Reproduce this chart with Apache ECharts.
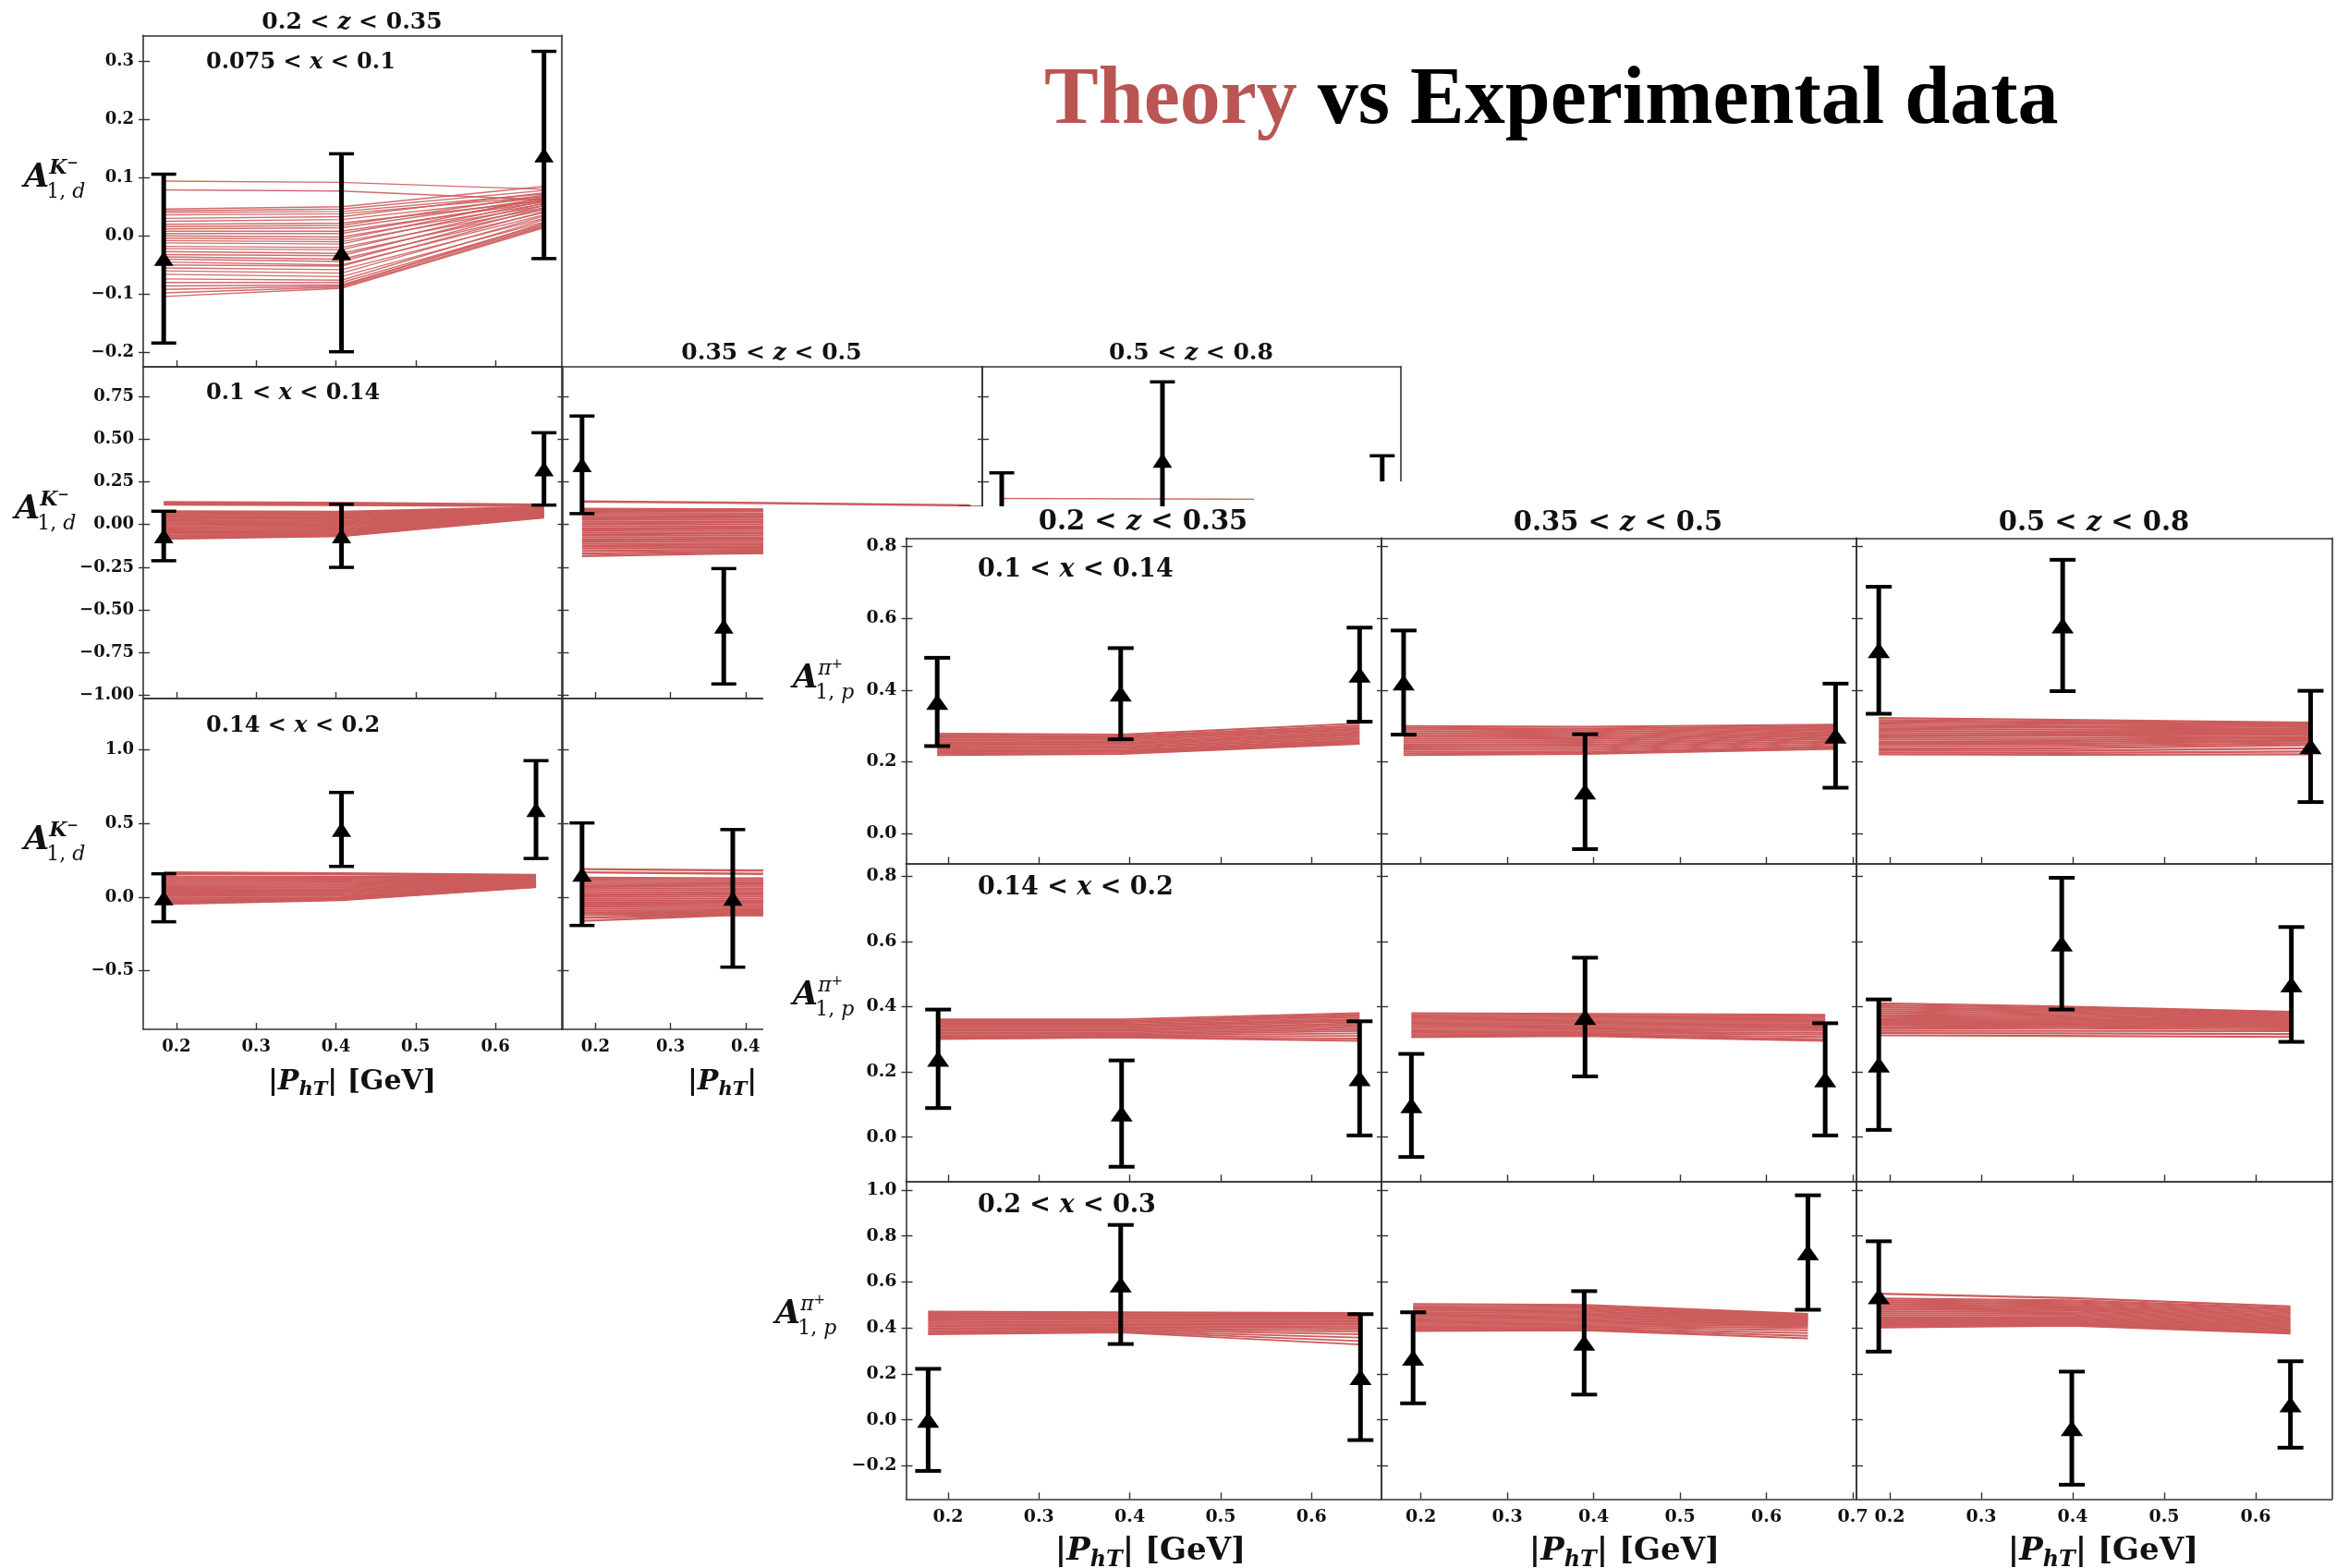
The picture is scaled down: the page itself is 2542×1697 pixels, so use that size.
<!DOCTYPE html>
<html>
<head>
<meta charset="utf-8">
<title>Theory vs Experimental data</title>
<script src="https://cdn.jsdelivr.net/npm/echarts@6/dist/echarts.min.js"></script>
<style>
  html, body { margin: 0; padding: 0; background: #fff; }
  .layer { position: absolute; left: 0; top: 0; width: 2542px; height: 1697px; }
</style>
</head>
<body>
<div id="kaon" class="layer"></div>
<div id="pion" class="layer"></div>
<script>
// ===================== bins and tick labels =====================
const zBins   = [['0.2', '0.35'], ['0.35', '0.5'], ['0.5', '0.8']];
const kdXBins = [['0.075', '0.1'], ['0.1', '0.14'], ['0.14', '0.2']];
const ppXBins = [['0.1', '0.14'], ['0.14', '0.2'], ['0.2', '0.3']];

const kdXTicks     = [0.2, 0.3, 0.4, 0.5, 0.6];
const kdXTicksWide = [0.2, 0.3, 0.4, 0.5, 0.6, 0.7];
const kdYTicksRow1 = [-0.2, -0.1, 0, 0.1, 0.2, 0.3];
const kdYTicksRow2 = [-1, -0.75, -0.5, -0.25, 0, 0.25, 0.5, 0.75];
const kdYTicksRow3 = [-0.5, 0, 0.5, 1];
const ppXTicks     = [0.2, 0.3, 0.4, 0.5, 0.6];
const ppXTicksWide = [0.2, 0.3, 0.4, 0.5, 0.6, 0.7];
const ppYTicks     = [0, 0.2, 0.4, 0.6, 0.8];
const ppYTicksLow  = [-0.2, 0, 0.2, 0.4, 0.6, 0.8, 1.0];

// ===================== K- on deuteron: A_1,d =====================
// 0.2 < z < 0.35, 0.075 < x < 0.1
const kd_z1_x1_pt  = [0.184, 0.407, 0.661];
const kd_z1_x1_val = [-0.039, -0.029, 0.139];
const kd_z1_x1_err = [0.145, 0.170, 0.178];
const kd_z1_x1_th = [
  [0.094, 0.092, 0.080], [0.079, 0.077, 0.062], [0.046, 0.050, 0.085], [0.043, 0.046, 0.078],
  [0.040, 0.042, 0.072], [0.036, 0.038, 0.068], [0.030, 0.033, 0.074], [0.025, 0.028, 0.066],
  [0.020, 0.022, 0.060], [0.016, 0.018, 0.070], [0.012, 0.014, 0.064], [0.008, 0.008, 0.058],
  [0.004, 0.004, 0.062], [0.000, -0.002, 0.055], [-0.004, -0.006, 0.066], [-0.008, -0.010, 0.052],
  [-0.012, -0.014, 0.060], [-0.018, -0.020, 0.048], [-0.022, -0.024, 0.056], [-0.027, -0.030, 0.045],
  [-0.032, -0.034, 0.052], [-0.036, -0.040, 0.040], [-0.040, -0.044, 0.048], [-0.045, -0.050, 0.036],
  [-0.050, -0.052, 0.042], [-0.055, -0.058, 0.030], [-0.060, -0.064, 0.034], [-0.066, -0.070, 0.024],
  [-0.074, -0.076, 0.028], [-0.080, -0.080, 0.020], [-0.086, -0.084, 0.018], [-0.092, -0.086, 0.022],
  [-0.098, -0.088, 0.016], [-0.104, -0.090, 0.014]
];
// 0.2 < z < 0.35, 0.1 < x < 0.14
const kd_z1_x2_pt  = [0.184, 0.407, 0.661];
const kd_z1_x2_val = [-0.067, -0.066, 0.326];
const kd_z1_x2_err = [0.145, 0.185, 0.212];
const kd_z1_x2_th = [
  [0.132, 0.128, 0.117], [0.124, 0.121, 0.112], [0.116, 0.114, 0.108], [0.078, 0.075, 0.104],
  [0.070, 0.066, 0.100], [0.061, 0.058, 0.097], [0.052, 0.049, 0.093], [0.043, 0.040, 0.089],
  [0.034, 0.031, 0.085], [0.025, 0.021, 0.081], [0.016, 0.011, 0.077], [0.006, 0.002, 0.072],
  [-0.004, -0.008, 0.068], [-0.014, -0.018, 0.064], [-0.024, -0.028, 0.060], [-0.034, -0.038, 0.056],
  [-0.044, -0.047, 0.052], [-0.054, -0.055, 0.049], [-0.064, -0.061, 0.046], [-0.074, -0.066, 0.043],
  [-0.084, -0.067, 0.041]
];
// 0.2 < z < 0.35, 0.14 < x < 0.2
const kd_z1_x3_pt  = [0.184, 0.407, 0.651];
const kd_z1_x3_val = [-0.004, 0.460, 0.595];
const kd_z1_x3_err = [0.163, 0.251, 0.332];
const kd_z1_x3_th = [
  [0.169, 0.163, 0.152], [0.158, 0.155, 0.146], [0.140, 0.138, 0.140], [0.128, 0.126, 0.134],
  [0.116, 0.114, 0.128], [0.104, 0.102, 0.122], [0.092, 0.090, 0.116], [0.080, 0.078, 0.111],
  [0.068, 0.066, 0.106], [0.056, 0.055, 0.101], [0.044, 0.043, 0.096], [0.032, 0.032, 0.091],
  [0.020, 0.020, 0.086], [0.008, 0.008, 0.082], [-0.004, -0.002, 0.078], [-0.016, -0.008, 0.075],
  [-0.028, -0.013, 0.072], [-0.038, -0.016, 0.070], [-0.046, -0.019, 0.069]
];
// 0.35 < z < 0.5, 0.1 < x < 0.14
const kd_z2_x2_pt  = [0.182, 0.371, 0.700];
const kd_z2_x2_val = [0.350, -0.596, -0.100];
const kd_z2_x2_err = [0.286, 0.338, 0.200];
const kd_z2_x2_th = [
  [0.135, 0.128, 0.112], [0.092, 0.090, 0.085], [0.080, 0.080, 0.078], [0.068, 0.066, 0.062],
  [0.055, 0.054, 0.050], [0.042, 0.041, 0.038], [0.030, 0.028, 0.026], [0.017, 0.015, 0.013],
  [0.004, 0.002, 0.000], [-0.009, -0.011, -0.013], [-0.022, -0.024, -0.026], [-0.035, -0.037, -0.039],
  [-0.048, -0.050, -0.052], [-0.061, -0.063, -0.064], [-0.074, -0.076, -0.077], [-0.087, -0.089, -0.090],
  [-0.100, -0.102, -0.103], [-0.113, -0.115, -0.114], [-0.126, -0.128, -0.124], [-0.140, -0.138, -0.132],
  [-0.155, -0.150, -0.140], [-0.170, -0.160, -0.150], [-0.184, -0.170, -0.158]
];
// 0.35 < z < 0.5, 0.14 < x < 0.2
const kd_z2_x3_pt  = [0.182, 0.383, 0.660];
const kd_z2_x3_val = [0.156, -0.008, 0.100];
const kd_z2_x3_err = [0.348, 0.467, 0.400];
const kd_z2_x3_th = [
  [0.190, 0.182, 0.178], [0.168, 0.160, 0.150], [0.132, 0.128, 0.130], [0.118, 0.115, 0.116],
  [0.104, 0.101, 0.102], [0.090, 0.087, 0.088], [0.076, 0.073, 0.074], [0.062, 0.059, 0.060],
  [0.048, 0.046, 0.046], [0.034, 0.032, 0.032], [0.020, 0.018, 0.018], [0.006, 0.004, 0.004],
  [-0.008, -0.010, -0.010], [-0.022, -0.024, -0.024], [-0.036, -0.038, -0.038], [-0.050, -0.052, -0.052],
  [-0.064, -0.066, -0.066], [-0.078, -0.080, -0.080], [-0.092, -0.094, -0.094], [-0.106, -0.106, -0.108],
  [-0.122, -0.116, -0.118], [-0.140, -0.119, -0.128], [-0.161, -0.122, -0.138]
];
// 0.5 < z < 0.8, 0.1 < x < 0.14
const kd_z3_x2_pt  = [0.186, 0.401, 0.695];
const kd_z3_x2_val = [0.020, 0.376, 0.100];
const kd_z3_x2_err = [0.283, 0.460, 0.303];
const kd_z3_x2_th = [
  [0.152, 0.150, 0.146], [0.060, 0.055, 0.050], [0.020, 0.018, 0.015], [-0.030, -0.030, -0.028],
  [-0.080, -0.075, -0.070]
];

// ===================== pi+ on proton: A_1,p =====================
const pp_z1_x1_pt = [0.188, 0.390, 0.653], pp_z1_x1_val = [0.367, 0.390, 0.443], pp_z1_x1_err = [0.123, 0.127, 0.131];
const pp_z2_x1_pt = [0.180, 0.390, 0.680], pp_z2_x1_val = [0.421, 0.117, 0.273], pp_z2_x1_err = [0.145, 0.160, 0.145];
const pp_z3_x1_pt = [0.188, 0.389, 0.660], pp_z3_x1_val = [0.511, 0.580, 0.243], pp_z3_x1_err = [0.177, 0.183, 0.155];
const pp_z1_x2_pt = [0.189, 0.391, 0.653], pp_z1_x2_val = [0.240, 0.072, 0.180], pp_z1_x2_err = [0.151, 0.163, 0.175];
const pp_z2_x2_pt = [0.189, 0.390, 0.668], pp_z2_x2_val = [0.097, 0.368, 0.177], pp_z2_x2_err = [0.158, 0.182, 0.172];
const pp_z3_x2_pt = [0.188, 0.388, 0.639], pp_z3_x2_val = [0.222, 0.593, 0.468], pp_z3_x2_err = [0.200, 0.202, 0.176];
const pp_z1_x3_pt = [0.178, 0.390, 0.654], pp_z1_x3_val = [0.000, 0.589, 0.186], pp_z1_x3_err = [0.222, 0.259, 0.274];
const pp_z2_x3_pt = [0.191, 0.389, 0.648], pp_z2_x3_val = [0.270, 0.335, 0.728], pp_z2_x3_err = [0.198, 0.225, 0.249];
const pp_z3_x3_pt = [0.188, 0.399, 0.638], pp_z3_x3_val = [0.537, -0.036, 0.067], pp_z3_x3_err = [0.240, 0.246, 0.188];

const pp_z1_x1_th = [
  [0.279, 0.276, 0.307], [0.275, 0.272, 0.301], [0.271, 0.269, 0.297], [0.267, 0.265, 0.293],
  [0.263, 0.261, 0.290], [0.259, 0.257, 0.286], [0.255, 0.253, 0.282], [0.251, 0.249, 0.278],
  [0.247, 0.245, 0.274], [0.243, 0.241, 0.270], [0.239, 0.238, 0.266], [0.235, 0.234, 0.262],
  [0.231, 0.231, 0.258], [0.227, 0.228, 0.255], [0.223, 0.225, 0.252], [0.219, 0.222, 0.250]
];
const pp_z2_x1_th = [
  [0.300, 0.298, 0.304], [0.295, 0.293, 0.300], [0.290, 0.288, 0.296], [0.285, 0.283, 0.292],
  [0.280, 0.278, 0.288], [0.275, 0.273, 0.284], [0.270, 0.268, 0.280], [0.265, 0.263, 0.276],
  [0.260, 0.258, 0.272], [0.255, 0.253, 0.268], [0.250, 0.248, 0.264], [0.245, 0.243, 0.259],
  [0.240, 0.238, 0.254], [0.235, 0.233, 0.249], [0.229, 0.228, 0.244], [0.224, 0.225, 0.240],
  [0.219, 0.222, 0.236]
];
const pp_z3_x1_th = [
  [0.322, 0.317, 0.309], [0.316, 0.312, 0.305], [0.310, 0.307, 0.301], [0.304, 0.301, 0.297],
  [0.298, 0.296, 0.292], [0.292, 0.290, 0.288], [0.286, 0.284, 0.284], [0.280, 0.279, 0.279],
  [0.274, 0.273, 0.275], [0.268, 0.267, 0.270], [0.262, 0.261, 0.266], [0.256, 0.256, 0.261],
  [0.250, 0.250, 0.257], [0.244, 0.244, 0.252], [0.238, 0.238, 0.247], [0.232, 0.231, 0.238],
  [0.226, 0.225, 0.229], [0.221, 0.220, 0.221]
];
const pp_z1_x2_th = [
  [0.361, 0.361, 0.380], [0.357, 0.357, 0.375], [0.353, 0.353, 0.371], [0.349, 0.349, 0.367],
  [0.345, 0.345, 0.362], [0.341, 0.341, 0.358], [0.337, 0.337, 0.354], [0.333, 0.333, 0.349],
  [0.329, 0.329, 0.345], [0.325, 0.325, 0.340], [0.321, 0.321, 0.335], [0.317, 0.317, 0.330],
  [0.313, 0.314, 0.325], [0.309, 0.311, 0.318], [0.305, 0.308, 0.310], [0.302, 0.306, 0.302],
  [0.300, 0.305, 0.295]
];
const pp_z2_x2_th = [
  [0.380, 0.378, 0.375], [0.375, 0.373, 0.370], [0.370, 0.368, 0.366], [0.365, 0.363, 0.361],
  [0.360, 0.358, 0.356], [0.355, 0.353, 0.351], [0.350, 0.348, 0.346], [0.345, 0.343, 0.341],
  [0.340, 0.338, 0.336], [0.335, 0.333, 0.331], [0.330, 0.328, 0.326], [0.325, 0.323, 0.320],
  [0.320, 0.319, 0.314], [0.315, 0.315, 0.307], [0.310, 0.312, 0.300], [0.306, 0.310, 0.295]
];
const pp_z3_x2_th = [
  [0.410, 0.400, 0.384], [0.404, 0.395, 0.380], [0.398, 0.390, 0.376], [0.392, 0.385, 0.372],
  [0.386, 0.380, 0.368], [0.380, 0.375, 0.364], [0.374, 0.370, 0.360], [0.368, 0.365, 0.356],
  [0.362, 0.360, 0.352], [0.356, 0.355, 0.348], [0.350, 0.350, 0.344], [0.344, 0.345, 0.340],
  [0.338, 0.340, 0.336], [0.332, 0.334, 0.331], [0.326, 0.326, 0.325], [0.319, 0.318, 0.316],
  [0.312, 0.310, 0.307]
];
const pp_z1_x3_th = [
  [0.471, 0.468, 0.465], [0.465, 0.462, 0.460], [0.459, 0.456, 0.455], [0.453, 0.450, 0.450],
  [0.447, 0.444, 0.444], [0.441, 0.438, 0.438], [0.435, 0.432, 0.432], [0.429, 0.426, 0.426],
  [0.423, 0.420, 0.420], [0.417, 0.414, 0.414], [0.411, 0.409, 0.407], [0.405, 0.404, 0.400],
  [0.399, 0.399, 0.392], [0.393, 0.394, 0.383], [0.387, 0.390, 0.372], [0.381, 0.386, 0.358],
  [0.376, 0.383, 0.343], [0.372, 0.380, 0.328]
];
const pp_z2_x3_th = [
  [0.504, 0.500, 0.461], [0.496, 0.493, 0.457], [0.489, 0.486, 0.453], [0.482, 0.479, 0.449],
  [0.475, 0.472, 0.445], [0.468, 0.465, 0.441], [0.461, 0.458, 0.437], [0.454, 0.451, 0.433],
  [0.447, 0.444, 0.429], [0.440, 0.437, 0.424], [0.433, 0.430, 0.419], [0.426, 0.423, 0.414],
  [0.419, 0.416, 0.408], [0.412, 0.409, 0.400], [0.405, 0.403, 0.390], [0.398, 0.397, 0.378],
  [0.392, 0.393, 0.366], [0.387, 0.390, 0.354]
];
const pp_z3_x3_th = [
  [0.549, 0.530, 0.494], [0.528, 0.520, 0.486], [0.520, 0.512, 0.479], [0.512, 0.504, 0.472],
  [0.504, 0.496, 0.465], [0.496, 0.489, 0.458], [0.488, 0.482, 0.451], [0.480, 0.475, 0.444],
  [0.472, 0.468, 0.437], [0.464, 0.461, 0.430], [0.456, 0.454, 0.423], [0.448, 0.447, 0.416],
  [0.440, 0.440, 0.409], [0.432, 0.433, 0.402], [0.424, 0.426, 0.395], [0.416, 0.420, 0.388],
  [0.409, 0.415, 0.382], [0.402, 0.410, 0.376]
];

// ===================== layout (pixel boxes and axis ranges) =====================
const KCOL = [[155, 608], [608.5, 1063], [1063, 1516]];
const KROW = [[38.3, 397], [397, 756], [756, 1114]];
const KXR  = [[0.1583, 0.6834], [0.1557, 0.7157], [0.16, 0.72]];
const KYR  = [[-0.2249, 0.3444], [-1.0195, 0.9242], [-0.8971, 1.3488]];
const PCOL = [[980.5, 1495], [1495, 2009], [2009, 2523.5]];
const PROW = [[582.3, 934.5], [934.5, 1278.3], [1278.3, 1622.3]];
const PXR  = [[0.1537, 0.6771], [0.1544, 0.7042], [0.1636, 0.6833]];
const PYR  = [[-0.0830, 0.8236], [-0.1351, 0.8389], [-0.3441, 1.0386]];

const RED = '#cd5c5c';
const INK = '#111';
const FRAME = '#333';
const SERIF = 'DejaVu Serif';
const K_MARK = { bar: 5, cap: 13.5, capW: 3.5, tw: 10.5, th: 8 };
const P_MARK = { bar: 5, cap: 14, capW: 4, tw: 12, th: 8.5 };

// ===================== helpers =====================
const fmt = d => v => (v < -1e-9 ? '\u2212' : '') + Math.abs(v).toFixed(d);

function errorBar(mk) {
  return function (params, api) {
    const x = api.value(0), y = api.value(1), e = api.value(2);
    const c = api.coord([x, y]);
    const hi = api.coord([x, y + e]);
    const lo = api.coord([x, y - e]);
    return {
      type: 'group',
      children: [
        { type: 'line', shape: { x1: c[0], y1: hi[1], x2: c[0], y2: lo[1] }, style: { stroke: '#000', lineWidth: mk.bar } },
        { type: 'line', shape: { x1: c[0] - mk.cap, y1: hi[1], x2: c[0] + mk.cap, y2: hi[1] }, style: { stroke: '#000', lineWidth: mk.capW } },
        { type: 'line', shape: { x1: c[0] - mk.cap, y1: lo[1], x2: c[0] + mk.cap, y2: lo[1] }, style: { stroke: '#000', lineWidth: mk.capW } },
        { type: 'polygon', shape: { points: [[c[0], c[1] - mk.th], [c[0] - mk.tw, c[1] + mk.th], [c[0] + mk.tw, c[1] + mk.th]] }, style: { fill: '#000' } }
      ]
    };
  };
}

function addPanel(opt, P) {
  const gi = opt.grid.length;
  const [l, t, r, b] = P.box;
  opt.grid.push({ left: l, top: t, width: r - l, height: b - t, show: false, outerBoundsMode: 'none', containLabel: false });
  const axisLine = { show: true, onZero: false, lineStyle: { color: FRAME, width: 1.6 } };
  const noLine = { show: false, onZero: false };
  const tickStyle = { color: FRAME, width: 1.4 };
  const lab = (show, vals, d, margin) => ({
    show, customValues: vals, margin, formatter: fmt(d),
    fontFamily: SERIF, fontWeight: 'bold', fontSize: P.fs, color: INK
  });
  const common = { type: 'value', gridIndex: gi, splitLine: { show: false }, splitArea: { show: false } };

  const xb = opt.xAxis.length;
  opt.xAxis.push(Object.assign({}, common, {
    position: 'bottom', min: P.xr[0], max: P.xr[1], axisLine,
    axisTick: { show: true, inside: true, length: 7, customValues: P.xt, lineStyle: tickStyle },
    axisLabel: lab(!!P.xl, P.xt, 1, 10)
  }));
  opt.xAxis.push(Object.assign({}, common, {
    position: 'top', min: P.xr[0], max: P.xr[1], axisLine,
    axisTick: { show: false }, axisLabel: { show: false }
  }));

  const yl = opt.yAxis.length;
  opt.yAxis.push(Object.assign({}, common, {
    position: 'left', min: P.yr[0], max: P.yr[1], axisLine,
    axisTick: { show: true, inside: false, length: 5, customValues: P.yt, lineStyle: tickStyle },
    axisLabel: lab(!!P.yl, P.yt, P.yd, 10)
  }));
  opt.yAxis.push(Object.assign({}, common, {
    position: 'left', min: P.yr[0], max: P.yr[1], axisLine: noLine,
    axisTick: { show: true, inside: true, length: 7, customValues: P.yt, lineStyle: tickStyle },
    axisLabel: { show: false }
  }));
  opt.yAxis.push(Object.assign({}, common, {
    position: 'right', min: P.yr[0], max: P.yr[1], axisLine,
    axisTick: { show: false }, axisLabel: { show: false }
  }));

  // theory replicas
  opt.series.push({
    type: 'lines', coordinateSystem: 'cartesian2d', polyline: true, silent: true,
    xAxisIndex: xb, yAxisIndex: yl, z: 2,
    lineStyle: { color: RED, width: P.lw, opacity: P.op || 1 },
    data: P.th.map(v => ({ coords: P.pt.map((x, i) => [x, v[i]]) }))
  });
  // measured points
  opt.series.push({
    type: 'custom', silent: true, xAxisIndex: xb, yAxisIndex: yl, z: 5,
    encode: { x: 0, y: 1 },
    data: P.pt.map((x, i) => [x, P.val[i], P.err[i]]),
    renderItem: errorBar(P.mk)
  });
}

// text runs with mixed italic / sub / superscript pieces
const mctx = document.createElement('canvas').getContext('2d');
function fontOf(p) {
  return (p.it ? 'italic ' : 'normal ') + (p.b ? 'bold ' : 'normal ') + p.size + 'px "' + (p.fam || SERIF) + '"';
}
function textRun(pieces, x, base, anchor) {
  const ws = pieces.map(p => { mctx.font = fontOf(p); return mctx.measureText(p.t).width; });
  const total = ws.reduce((a, w) => a + w, 0);
  let cx = anchor === 'center' ? x - total / 2 : x;
  return pieces.map((p, i) => {
    const el = {
      type: 'text', x: cx, y: base + (p.dy || 0) - 0.30 * p.size, silent: true, z: 10,
      style: {
        text: p.t, fill: p.c || INK, fontFamily: p.fam || SERIF, fontSize: p.size,
        fontStyle: p.it ? 'italic' : 'normal', fontWeight: p.b ? 'bold' : 'normal',
        align: 'left', verticalAlign: 'middle'
      }
    };
    cx += ws[i];
    return el;
  });
}
function zTitle(bin, cx, base, size) {
  return textRun([
    { t: bin[0] + ' < ', size, b: 1 }, { t: 'z', size, b: 1, it: 1 }, { t: ' < ' + bin[1], size, b: 1 }
  ], cx, base, 'center');
}
function xBinLabel(bin, x, base, size) {
  return textRun([
    { t: bin[0] + ' < ', size, b: 1 }, { t: 'x', size, it: 1, b: 1 }, { t: ' < ' + bin[1], size, b: 1 }
  ], x, base, 'left');
}
function phtLabel(cx, base, size) {
  return textRun([
    { t: '|', size, b: 1 }, { t: 'P', size, it: 1, b: 1 }, { t: 'hT', size: size * 0.7, it: 1, b: 1, dy: size * 0.2 },
    { t: '|', size, b: 1 }, { t: ' [GeV]', size, b: 1 }
  ], cx, base, 'center');
}
function asymLabel(x, base, sup, sub) {
  const A = { t: 'A', size: 35, it: 1, b: 1 };
  mctx.font = fontOf(A);
  const wA = mctx.measureText('A').width;
  return [].concat(
    textRun([A], x, base, 'left'),
    textRun(sup, x + wA, base - 14, 'left'),
    textRun(sub, x + wA - 3, base + 12, 'left')
  );
}
const kSup = [{ t: 'K', size: 22, it: 1, b: 1 }, { t: '\u2212', size: 15, dy: -7, b: 1 }];
const kSub = [{ t: '1, ', size: 22 }, { t: 'd', size: 22, it: 1 }];
const pSup = [{ t: '\u03c0', size: 22, it: 1 }, { t: '+', size: 15, dy: -7 }];
const pSub = [{ t: '1, ', size: 22 }, { t: 'p', size: 22, it: 1 }];

// ===================== K- figure =====================
const kOpt = { animation: false, grid: [], xAxis: [], yAxis: [], series: [], graphic: [] };
const kPanels = [
  { c: 0, r: 0, pt: kd_z1_x1_pt, val: kd_z1_x1_val, err: kd_z1_x1_err, th: kd_z1_x1_th, lw: 1.4, op: 0.9, yt: kdYTicksRow1, yd: 1, yl: 1, xt: kdXTicks },
  { c: 0, r: 1, pt: kd_z1_x2_pt, val: kd_z1_x2_val, err: kd_z1_x2_err, th: kd_z1_x2_th, lw: 2.2, yt: kdYTicksRow2, yd: 2, yl: 1, xt: kdXTicks },
  { c: 0, r: 2, pt: kd_z1_x3_pt, val: kd_z1_x3_val, err: kd_z1_x3_err, th: kd_z1_x3_th, lw: 2.2, yt: kdYTicksRow3, yd: 1, yl: 1, xt: kdXTicks, xl: 1 },
  { c: 1, r: 1, pt: kd_z2_x2_pt, val: kd_z2_x2_val, err: kd_z2_x2_err, th: kd_z2_x2_th, lw: 2.4, yt: kdYTicksRow2, yd: 2, xt: kdXTicksWide },
  { c: 1, r: 2, pt: kd_z2_x3_pt, val: kd_z2_x3_val, err: kd_z2_x3_err, th: kd_z2_x3_th, lw: 2.3, yt: kdYTicksRow3, yd: 1, xt: kdXTicksWide, xl: 1 },
  { c: 2, r: 1, pt: kd_z3_x2_pt, val: kd_z3_x2_val, err: kd_z3_x2_err, th: kd_z3_x2_th, lw: 1.5, op: 0.9, yt: kdYTicksRow2, yd: 2, xt: kdXTicksWide }
];
kPanels.forEach(p => addPanel(kOpt, Object.assign({
  box: [KCOL[p.c][0], KROW[p.r][0], KCOL[p.c][1], KROW[p.r][1]],
  xr: KXR[p.c], yr: KYR[p.r], fs: 18, mk: K_MARK
}, p)));

kOpt.graphic = [].concat(
  zTitle(zBins[0], 381, 32, 25),
  zTitle(zBins[1], 835, 390, 25),
  zTitle(zBins[2], 1289, 390, 25),
  xBinLabel(kdXBins[0], 223, 75, 24),
  xBinLabel(kdXBins[1], 223, 433, 24),
  xBinLabel(kdXBins[2], 223, 793, 24),
  asymLabel(26, 203, kSup, kSub),
  asymLabel(16, 562, kSup, kSub),
  asymLabel(26, 920, kSup, kSub),
  phtLabel(381, 1180, 30),
  phtLabel(835, 1180, 30),
  textRun([
    { t: 'Theory', size: 88, b: 1, c: '#b95552', fam: 'Liberation Serif' },
    { t: ' vs ', size: 88, b: 1, c: '#000', fam: 'Liberation Serif' },
    { t: 'Experimental data', size: 88, b: 1, c: '#000', fam: 'Liberation Serif' }
  ], 1130, 137, 'left')
);

// ===================== pi+ figure (drawn on its own white sheet) =====================
const pOpt = { animation: false, grid: [], xAxis: [], yAxis: [], series: [], graphic: [] };
const pPanels = [
  { c: 0, r: 0, pt: pp_z1_x1_pt, val: pp_z1_x1_val, err: pp_z1_x1_err, th: pp_z1_x1_th, lw: 1.9 },
  { c: 1, r: 0, pt: pp_z2_x1_pt, val: pp_z2_x1_val, err: pp_z2_x1_err, th: pp_z2_x1_th, lw: 2.0 },
  { c: 2, r: 0, pt: pp_z3_x1_pt, val: pp_z3_x1_val, err: pp_z3_x1_err, th: pp_z3_x1_th, lw: 2.3 },
  { c: 0, r: 1, pt: pp_z1_x2_pt, val: pp_z1_x2_val, err: pp_z1_x2_err, th: pp_z1_x2_th, lw: 1.8 },
  { c: 1, r: 1, pt: pp_z2_x2_pt, val: pp_z2_x2_val, err: pp_z2_x2_err, th: pp_z2_x2_th, lw: 2.0 },
  { c: 2, r: 1, pt: pp_z3_x2_pt, val: pp_z3_x2_val, err: pp_z3_x2_err, th: pp_z3_x2_th, lw: 2.2 },
  { c: 0, r: 2, pt: pp_z1_x3_pt, val: pp_z1_x3_val, err: pp_z1_x3_err, th: pp_z1_x3_th, lw: 1.8 },
  { c: 1, r: 2, pt: pp_z2_x3_pt, val: pp_z2_x3_val, err: pp_z2_x3_err, th: pp_z2_x3_th, lw: 2.0 },
  { c: 2, r: 2, pt: pp_z3_x3_pt, val: pp_z3_x3_val, err: pp_z3_x3_err, th: pp_z3_x3_th, lw: 2.2 }
];
pPanels.forEach(p => addPanel(pOpt, Object.assign({
  box: [PCOL[p.c][0], PROW[p.r][0], PCOL[p.c][1], PROW[p.r][1]],
  xr: PXR[p.c], yr: PYR[p.r], fs: 19, mk: P_MARK,
  xt: p.c === 1 ? ppXTicksWide : ppXTicks, xl: p.r === 2,
  yt: p.r === 2 ? ppYTicksLow : ppYTicks, yd: 1, yl: p.c === 0
}, p)));

pOpt.graphic = [
  {
    type: 'polygon', silent: true, z: -1,
    shape: { points: [[826, 548], [1357, 548], [1357, 521], [2542, 521], [2542, 1697], [826, 1697]] },
    style: { fill: '#fff' }
  }
].concat(
  zTitle(zBins[0], 1237, 574, 29),
  zTitle(zBins[1], 1751, 575, 29),
  zTitle(zBins[2], 2266, 575, 29),
  xBinLabel(ppXBins[0], 1058, 625, 27),
  xBinLabel(ppXBins[1], 1058, 969, 27),
  xBinLabel(ppXBins[2], 1058, 1313, 27),
  asymLabel(858, 745, pSup, pSub),
  asymLabel(858, 1088, pSup, pSub),
  asymLabel(839, 1433, pSup, pSub),
  phtLabel(1245, 1689, 34),
  phtLabel(1758, 1689, 34),
  phtLabel(2276, 1689, 34)
);

echarts.init(document.getElementById('kaon'), null, { renderer: 'canvas' }).setOption(kOpt);
echarts.init(document.getElementById('pion'), null, { renderer: 'canvas' }).setOption(pOpt);
</script>
</body>
</html>
